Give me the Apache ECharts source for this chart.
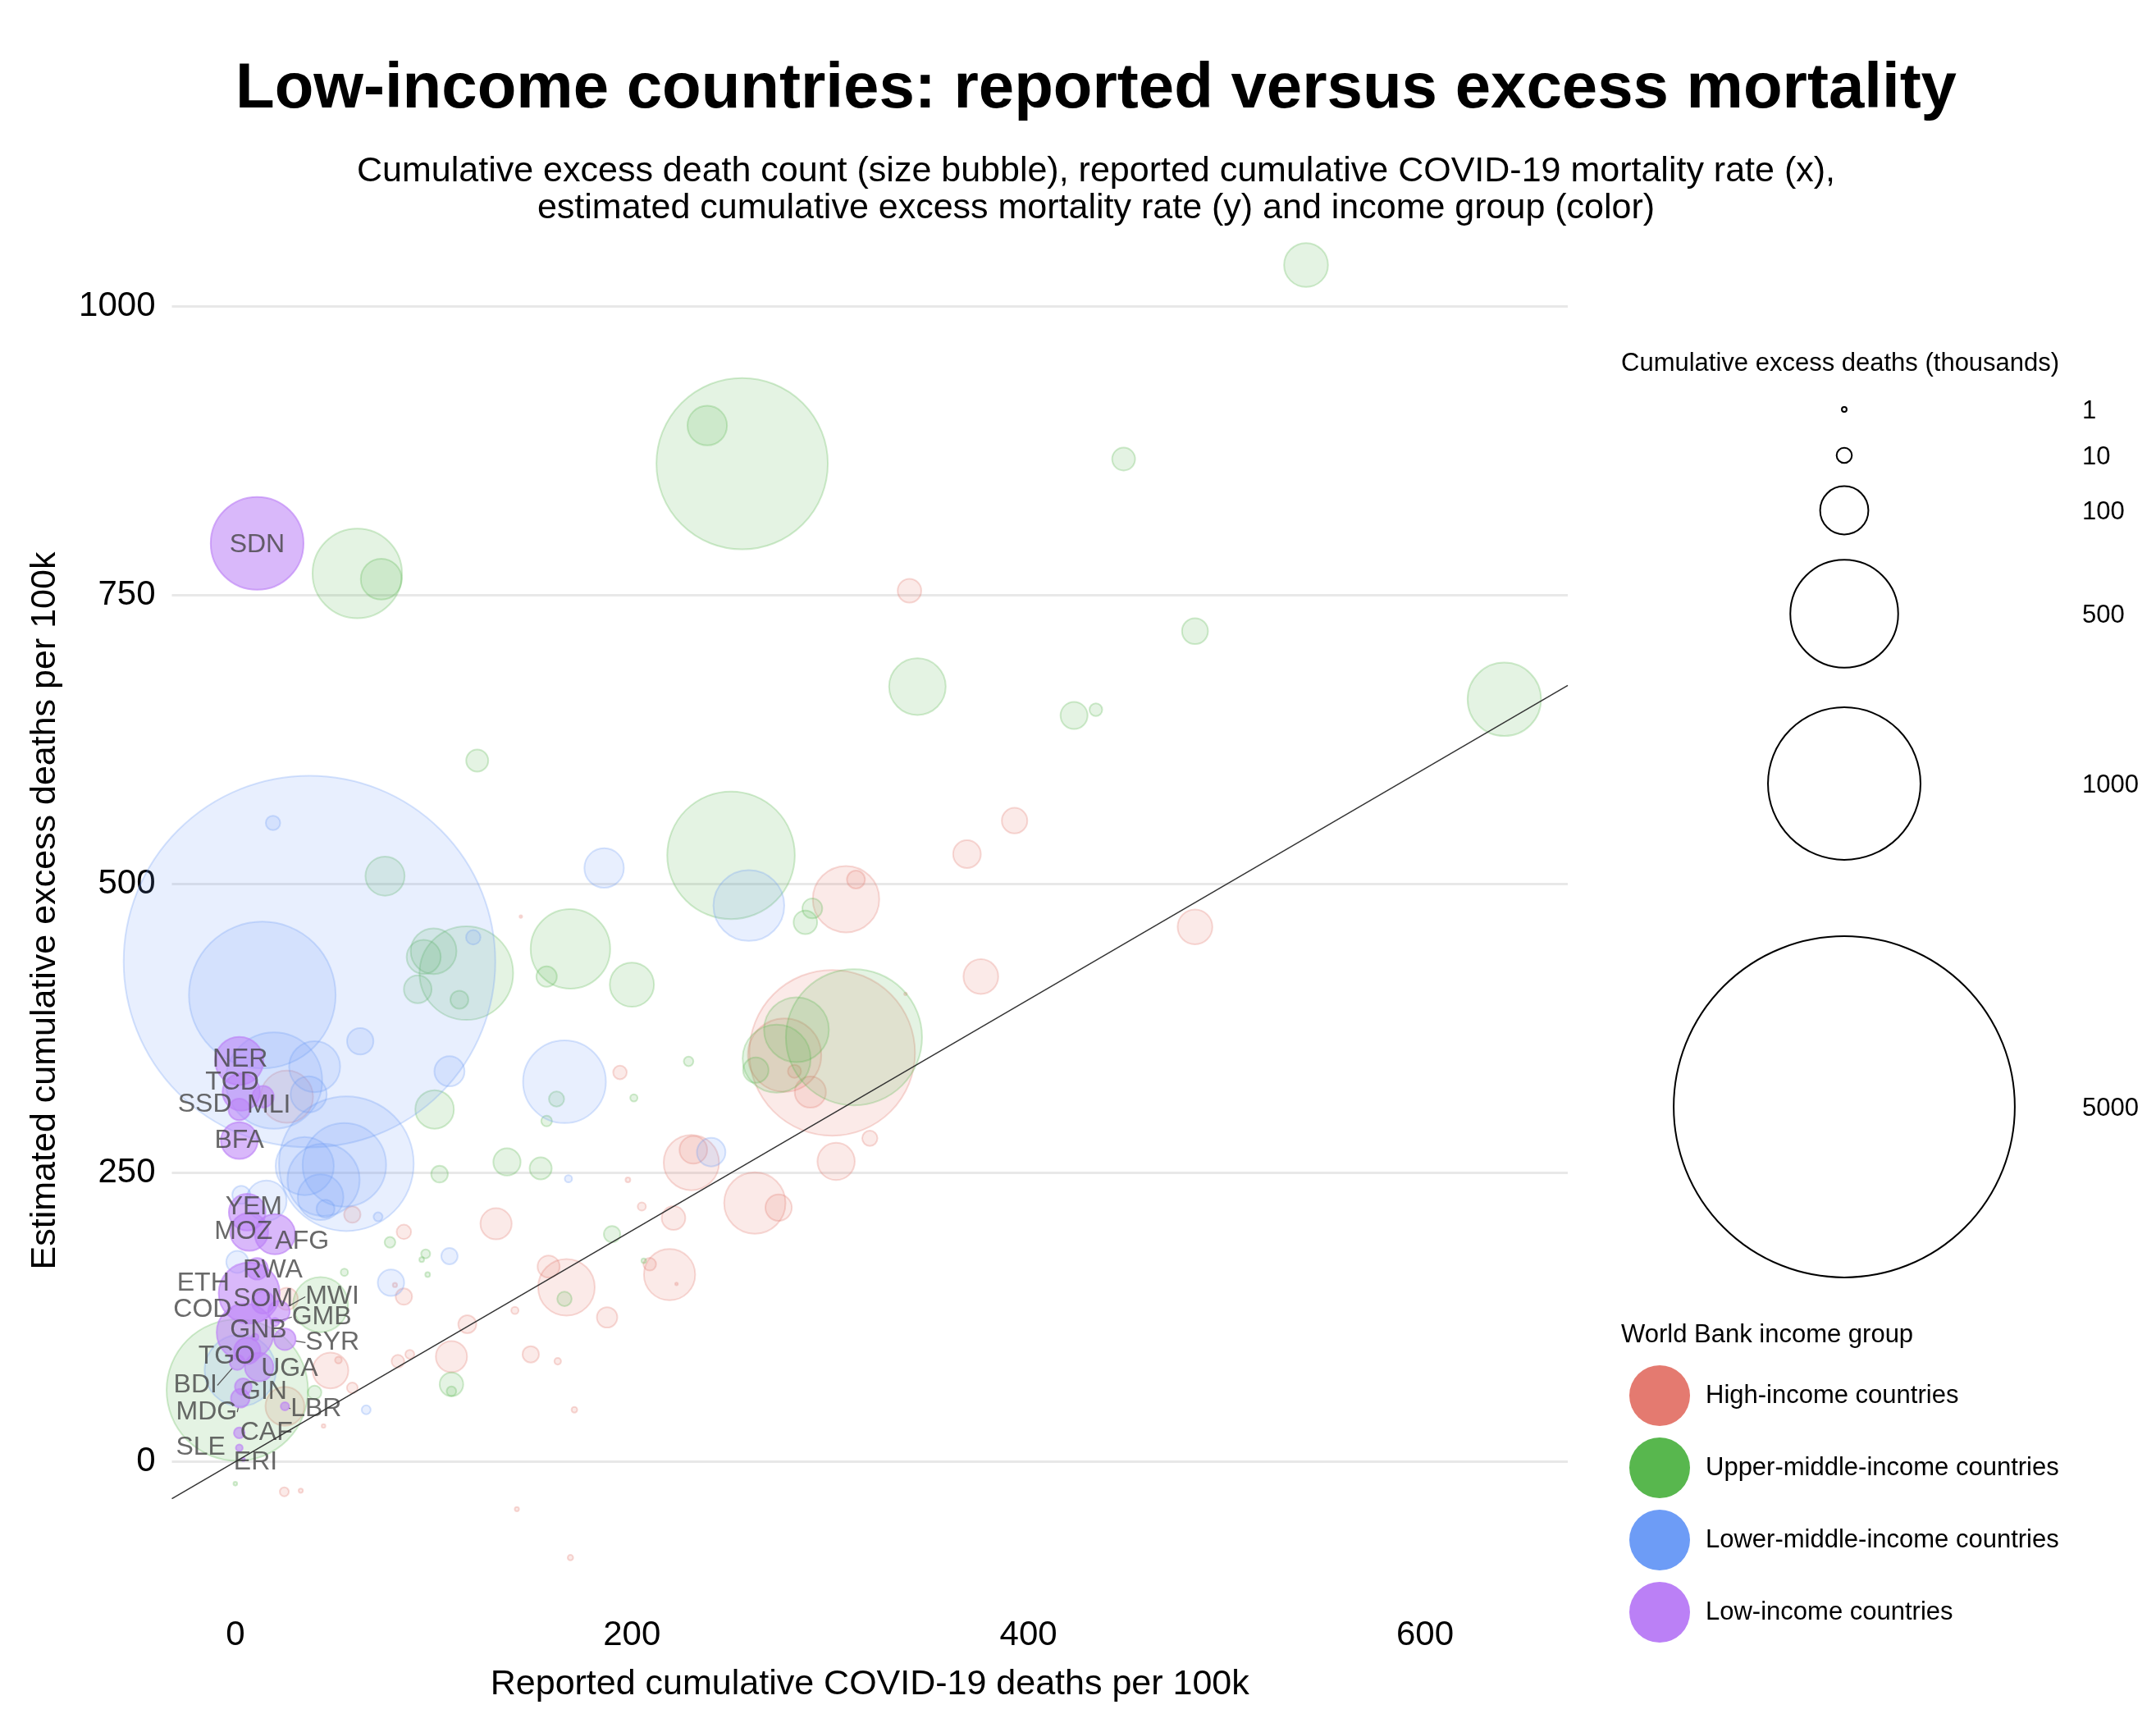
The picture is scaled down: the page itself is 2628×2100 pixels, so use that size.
<!DOCTYPE html>
<html><head><meta charset="utf-8">
<script src="https://cdn.jsdelivr.net/npm/echarts@6/dist/echarts.min.js"></script>
<style>html,body{margin:0;padding:0;background:#fff}#c{width:2628px;height:2100px}</style>
</head><body><div id="c"></div>
<script>
// ---------- DATA ----------
const xTicks = [0, 200, 400, 600];
const yTicks = [0, 250, 500, 750, 1000];
const groupNames = ['High-income countries', 'Upper-middle-income countries', 'Lower-middle-income countries', 'Low-income countries'];
const sizeLegendValues = [1, 10, 100, 500, 1000, 5000];

const highX = [340,393,369,484,376,308,313,301,277,282,290,320,303,338,230,231,262,274,221,219,209,205,167,158,187.5,141,131.5,194,198,144,117,109,82,88,149,162.6,171,85,80.5,85,59,26,48,25,59,44.5,52,26,24.7,33,142,169,222.5];
const highY = [754,555,526,463,420,487,504,354,352,338,320,280,260,405,259,270,224,220,211,162,171,221,151,169,125,131,206,337,244,472,119,91,87,93,93,87,45,143,153,199,214,316,79,48,64,31,88,141,-26,-25,-41,-83,154];
const highSize = [24,28,33,52,52,190,14,1180,232,7.5,42,10,60,0.3,132,33,162,30,24,113,7,2.9,138,21,18,2.3,42,8,1,0.3,14,42,7,3.5,11.6,1.9,1.4,11.6,0.8,9,11.6,118,55,65,5,0.6,2,21,3.5,0.8,0.8,1.3,0.3];

const umX = [540,255.6,238,448,484,344,423,434,640,61.5,73.6,122,75.5,250,291,287.5,169,200,116.5,100,95,92,113,157,162,201,157,100.5,312,283,273,262.5,228.6,137,154,103,190,206,166,109,109,96,94,97,78,55,43,40,1,0];
const umY = [1036,864,897,868,719,671,646,651,660,769,764,607,507,525,479,467,444,413,423,442,437,409,400,420,314,315,295,305,367.5,374,349,339,346.6,259.5,254,249,197,174,141,67,61,180,175,162,190,164,136,60,62,-19];
const umSize = [83,1263,67,22.6,29,138,31.5,7,232,344,72,21,66,700,17,24,272,84,377,90,50,33,14,18,10,2.3,5,64,797,181,199,28,4,32,21,12,11.6,1,9,24,4,3.5,1,1,5,2.3,130,8,860,0.6];

const lmX = [37.4,19,186,120,13.6,63,108,166,19.5,40,37,56,55,35,44.5,43,45.5,72,15.7,3,1,78.5,108,168,259,240,66,2.5];
const lmY = [433,553,514,454,404,364,338,329,330,342,318,258,257,256,244,229,219,212,226,231,173,155,178,245,481.5,268,45,79];
const lmSize = [5935,9,67,9,925,30,39,295,400,112,56,780,300,146,224,90,14,3.5,70,14,21,30,11.6,2.3,216,35,3.5,219];

const lowCodes = ['SDN','NER','TCD','SSD','MLI','BFA','YEM','MOZ','AFG','RWA','ETH','SOM','MWI','COD','GMB','GNB','SYR','TGO','UGA','BDI','GIN','MDG','LBR','CAF','SLE','ERI'];
const lowX = [11,2,3,2,14,2,6,7,20,11,7,14,22,5,20,10,25,6,12,1,4,2.5,25,2,2,4];
const lowY = [795,347,320,305,316,278,216,199,197,167,146,138,130,112,121,108,106,96,82,86,65,55,48,25,12,2];
const lowSize = [370,100,60,20,20,58,58,62,70,20,160,22,20,140,3,2,20,30,35,10,12,15,3,5,2,0.5];

// ---------- STYLE / LAYOUT ----------
const FONT = 'Liberation Sans, Arial, Helvetica, sans-serif';
const X_MIN = -32, X_MAX = 672, Y_MIN = -126, Y_MAX = 1080;
const SIZE_K = 5.88; // px diameter per sqrt(thousand deaths)
const baseColors = [[228,122,112],[88,183,78],[109,156,246],[187,128,246]];
const fillAlpha = [0.2,0.2,0.2,0.7];
const borderAlpha = [0.35,0.35,0.35,0.8];
const labelOffsets = {SDN:[0,2],NER:[1,-2],TCD:[-11,-12],SSD:[-42,-6],MLI:[7,10],BFA:[0,0],YEM:[8,-6],MOZ:[-7,0],AFG:[33,9],RWA:[19,2],ETH:[-56,-12],SOM:[0,-4],MWI:[65,-18],COD:[-52,-28],GMB:[57,-6],GNB:[4,-8],SYR:[58,4],TGO:[-25,7],UGA:[37,2],BDI:[-51,28],GIN:[25,6],MDG:[-41,17],LBR:[38,3],CAF:[33,0],SLE:[-47,-1],ERI:[15,3]};
const withLeader = ['MWI','GMB','SYR','BDI','MDG','LBR','COD'];
const sizeLegendCY = [499,555,622,748,955,1349];

function rgba(c, a){ return 'rgba(' + c[0] + ',' + c[1] + ',' + c[2] + ',' + a + ')'; }
function zip(xs, ys, ss){ return xs.map((x,i)=>[x, ys[i], ss[i]]); }
const sizeFn = v => SIZE_K * Math.sqrt(v);

function bubbleSeries(idx, data, extra){
  return Object.assign({
    name: groupNames[idx], type: 'scatter', data: data,
    symbolSize: d => sizeFn(d[2]),
    itemStyle: { color: rgba(baseColors[idx], fillAlpha[idx]), borderColor: rgba(baseColors[idx], borderAlpha[idx]), borderWidth: 2 },
    emphasis: { disabled: true }, silent: true, z: 2 + idx
  }, extra || {});
}

const lowData = lowCodes.map((c,i)=>({
  name: c, value: [lowX[i], lowY[i], lowSize[i]],
  labelLine: { show: withLeader.indexOf(c) >= 0, lineStyle: { color: '#555', width: 1.2 } }
}));

const graphics = [];
graphics.push({ type:'text', x:1976, y:443, style:{ text:'Cumulative excess deaths (thousands)', font:'31px ' + FONT, fill:'#000', textVerticalAlign:'middle' } });
sizeLegendValues.forEach((v,i)=>{
  graphics.push({ type:'circle', shape:{ cx:2248, cy:sizeLegendCY[i], r:sizeFn(v)/2 }, style:{ fill:'none', stroke:'#000', lineWidth:2 } });
  graphics.push({ type:'text', x:2538, y:sizeLegendCY[i] + 2, style:{ text:String(v), font:'31px ' + FONT, fill:'#000', textVerticalAlign:'middle' } });
});
graphics.push({ type:'text', x:1976, y:1627, style:{ text:'World Bank income group', font:'31px ' + FONT, fill:'#000', textVerticalAlign:'middle' } });

const option = {
  animation: false,
  backgroundColor: '#fff',
  textStyle: { fontFamily: FONT },
  title: [
    { text: 'Low-income countries: reported versus excess mortality', left: 1336, top: 70, textAlign: 'center', padding: 0,
      textStyle: { fontSize: 78, fontWeight: 'bold', color: '#000', fontFamily: FONT } },
    { text: 'Cumulative excess death count (size bubble), reported cumulative COVID-19 mortality rate (x),\nestimated cumulative excess mortality rate (y) and income group (color)',
      left: 1336, top: 187, textAlign: 'center', padding: 0,
      textStyle: { fontSize: 43, fontWeight: 'normal', color: '#000', lineHeight: 45, fontFamily: FONT } }
  ],
  legend: {
    orient: 'vertical', left: 1981, top: 1659, itemWidth: 74, itemHeight: 74, itemGap: 14,
    icon: 'circle', selectedMode: false,
    textStyle: { fontSize: 31, color: '#000', fontFamily: FONT, padding: [0,0,0,14] },
    data: groupNames.map((n,i)=>({ name: n, itemStyle: { color: rgba(baseColors[i],1), borderWidth: 0, opacity: 1 } }))
  },
  grid: { left: 209.5, right: 717, top: 261, bottom: 141, containLabel: false },
  xAxis: {
    type: 'value', min: X_MIN, max: X_MAX,
    axisLine: { show: false }, axisTick: { show: false, customValues: xTicks },
    axisLabel: { customValues: xTicks, fontSize: 42, color: '#000', margin: 13, fontFamily: FONT, formatter: v => String(v) },
    splitLine: { show: false },
    name: 'Reported cumulative COVID-19 deaths per 100k', nameLocation: 'middle', nameGap: 73,
    nameTextStyle: { fontSize: 43, color: '#000', fontFamily: FONT }
  },
  yAxis: {
    type: 'value', min: Y_MIN, max: Y_MAX,
    axisLine: { show: false }, axisTick: { show: false, customValues: yTicks },
    axisLabel: { customValues: yTicks, fontSize: 42, color: '#000', margin: 20, fontFamily: FONT, formatter: v => String(v) },
    splitLine: { show: true, lineStyle: { color: '#e8e8e8', width: 3 } },
    name: 'Estimated cumulative excess deaths per 100k', nameLocation: 'middle', nameGap: 133,
    nameTextStyle: { fontSize: 43, color: '#000', fontFamily: FONT }
  },
  series: [
    bubbleSeries(0, zip(highX, highY, highSize)),
    bubbleSeries(1, zip(umX, umY, umSize)),
    bubbleSeries(2, zip(lmX, lmY, lmSize)),
    bubbleSeries(3, lowData, {
      symbolSize: d => sizeFn(d[2]),
      label: { show: true, position: 'inside', formatter: p => p.name, fontSize: 32, color: '#444', fontFamily: FONT },
      labelLayout: p => { const o = labelOffsets[lowCodes[p.dataIndex]] || [0,0]; return { dx: o[0], dy: o[1] }; }
    }),
    { type: 'line', data: [[X_MIN, X_MIN], [X_MAX, X_MAX]], symbol: 'none', silent: true, z: 10,
      lineStyle: { color: '#333', width: 1.5 }, emphasis: { disabled: true } }
  ],
  graphic: graphics
};

const chart = echarts.init(document.getElementById('c'), null, { renderer: 'canvas', width: 2628, height: 2100 });
chart.setOption(option);
</script>
</body></html>
